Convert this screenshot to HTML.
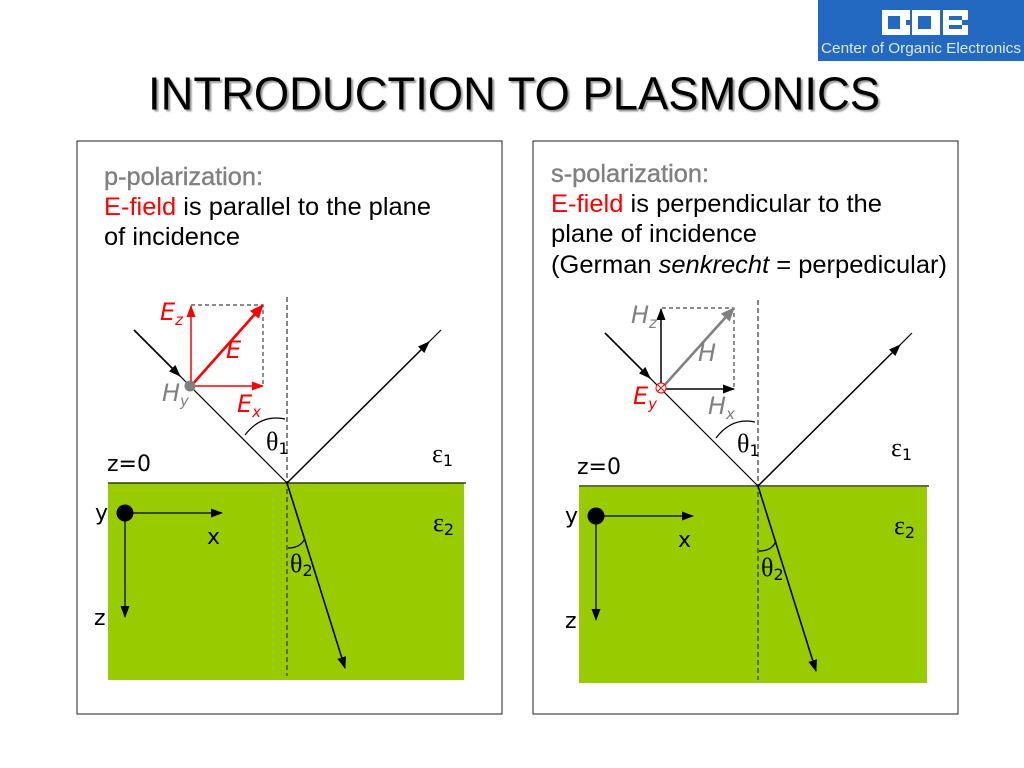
<!DOCTYPE html>
<html><head><meta charset="utf-8"><style>
html,body{margin:0;padding:0;background:#fff;width:1024px;height:768px;overflow:hidden}
svg{display:block}
.t{font-family:"Liberation Sans",sans-serif;font-size:25.4px}
.d{font-family:"DejaVu Sans",sans-serif;font-size:22px;fill:#000}
.i{font-family:"DejaVu Sans",sans-serif;font-style:italic;font-size:24px}
.s{font-size:15px}
.g{font-family:"Liberation Serif",serif;font-size:26px}
.n{font-family:"DejaVu Sans",sans-serif;font-size:16px}
</style></head><body>
<svg width="1024" height="768" viewBox="0 0 1024 768" xmlns="http://www.w3.org/2000/svg">
<defs>
<marker id="b" markerUnits="userSpaceOnUse" markerWidth="14" markerHeight="12" refX="11" refY="6" orient="auto"><path d="M0 1.500L12 6L0 10.500z" fill="#000"/></marker>
<marker id="r" markerUnits="userSpaceOnUse" markerWidth="14" markerHeight="12" refX="11" refY="6" orient="auto"><path d="M0 1.500L12 6L0 10.500z" fill="#f00"/></marker>
<marker id="R" markerUnits="userSpaceOnUse" markerWidth="16" markerHeight="14" refX="13" refY="7" orient="auto"><path d="M0 1L14 7L0 13z" fill="#f00"/></marker>
<marker id="g" markerUnits="userSpaceOnUse" markerWidth="16" markerHeight="14" refX="13" refY="7" orient="auto"><path d="M0 1L14 7L0 13z" fill="#808080"/></marker>
<filter id="sh" x="-5%" y="-20%" width="110%" height="140%"><feGaussianBlur stdDeviation="0.8"/></filter>
</defs>
<rect x="818" y="0" width="206" height="61" fill="#2369c1"/>
<path d="M882 10H910V20H906V25H910V35H882ZM888 16V29H900V16Z" fill="#fff" fill-rule="evenodd"/>
<path d="M912 10H940V35H912ZM918 16V29H931V16Z" fill="#fff" fill-rule="evenodd"/>
<path d="M943 10H968V20H962V25H968V35H943ZM949 16V20H962V16ZM949 25V29H962V25Z" fill="#fff" fill-rule="evenodd"/>
<text x="821" y="53" font-family="Liberation Sans,sans-serif" font-size="15" fill="#dce8f7" textLength="200" lengthAdjust="spacingAndGlyphs">Center of Organic Electronics</text>
<text x="150" y="111.500" font-family="Liberation Sans,sans-serif" font-size="46" fill="#999" filter="url(#sh)" textLength="732" lengthAdjust="spacingAndGlyphs">INTRODUCTION TO PLASMONICS</text>
<text x="148" y="109.500" font-family="Liberation Sans,sans-serif" font-size="46" fill="#000" textLength="732" lengthAdjust="spacingAndGlyphs">INTRODUCTION TO PLASMONICS</text>
<rect x="77" y="141" width="425" height="573" fill="#fff" stroke="#222" stroke-width="1"/>
<rect x="533" y="141" width="425" height="573" fill="#fff" stroke="#222" stroke-width="1"/>

<text class="t" x="104" y="185" fill="#808080" stroke="#808080" stroke-width=".4" textLength="159" lengthAdjust="spacingAndGlyphs">p-polarization:</text>
<text class="t" x="104" y="215" textLength="327" lengthAdjust="spacingAndGlyphs"><tspan fill="#f00">E-field</tspan> is parallel to the plane</text>
<text class="t" x="104" y="245" textLength="136" lengthAdjust="spacingAndGlyphs">of incidence</text>
<text class="t" x="551" y="182" fill="#808080" stroke="#808080" stroke-width=".4" textLength="158" lengthAdjust="spacingAndGlyphs">s-polarization:</text>
<text class="t" x="551" y="212" textLength="331" lengthAdjust="spacingAndGlyphs"><tspan fill="#f00">E-field</tspan> is perpendicular to the</text>
<text class="t" x="551" y="242" textLength="206" lengthAdjust="spacingAndGlyphs">plane of incidence</text>
<text class="t" x="551" y="273" textLength="396" lengthAdjust="spacingAndGlyphs">(German <tspan font-style="italic">senkrecht</tspan> = perpedicular)</text>

<!-- LEFT -->
<rect x="108" y="483" width="356" height="197" fill="#99cc00"/>
<line x1="108" y1="483" x2="466" y2="483" stroke="#2d3d10" stroke-width="1.5"/>
<line x1="287" y1="297" x2="287" y2="676" stroke="#333" stroke-width="1.2" stroke-dasharray="5 3"/>
<line x1="134" y1="330" x2="287" y2="483" stroke="#000" stroke-width="1.2"/>
<line x1="134" y1="330" x2="180" y2="376" stroke="#000" stroke-width="1.6" marker-end="url(#b)"/>
<line x1="287" y1="483" x2="441" y2="330" stroke="#000" stroke-width="1.2"/>
<line x1="287" y1="483" x2="429" y2="342" stroke="#000" stroke-width="1.4" marker-end="url(#b)"/>
<line x1="287" y1="483" x2="345" y2="668" stroke="#000" stroke-width="1.6" marker-end="url(#b)"/>
<path d="M245 435Q261 414 285 419" fill="none" stroke="#000" stroke-width="1.2"/>
<path d="M288 548Q301 548 305 538" fill="none" stroke="#000" stroke-width="1.2"/>
<path d="M191 305H263V386" fill="none" stroke="#444" stroke-width="1.2" stroke-dasharray="4 3"/>
<line x1="191" y1="386" x2="191" y2="306" stroke="#f00" stroke-width="1.5" marker-end="url(#r)"/>
<line x1="191" y1="386" x2="263" y2="386" stroke="#f00" stroke-width="1.5" marker-end="url(#r)"/>
<line x1="191" y1="386" x2="263" y2="305" stroke="#f00" stroke-width="2.6" marker-end="url(#R)"/>
<circle cx="190" cy="386" r="5.5" fill="#808080"/>
<text class="i" x="160" y="320" fill="#f00">E<tspan class="s" dy="5">z</tspan></text>
<text class="i" x="226" y="358" fill="#f00">E</text>
<text class="i" x="237" y="412" fill="#f00">E<tspan class="s" dy="5">x</tspan></text>
<text class="i" x="162" y="401" fill="#808080">H<tspan class="s" dy="5">y</tspan></text>
<text class="g" x="266" y="450">θ<tspan class="n" dy="4">1</tspan></text>
<text class="g" x="290" y="572">θ<tspan class="n" dy="4">2</tspan></text>
<text class="g" x="432" y="462">ε<tspan class="n" dy="4">1</tspan></text>
<text class="g" x="433" y="531">ε<tspan class="n" dy="4">2</tspan></text>
<text class="d" x="107" y="471">z=0</text>
<circle cx="125" cy="513" r="8.5" fill="#000"/>
<line x1="125" y1="513" x2="222" y2="513" stroke="#000" stroke-width="1.3" marker-end="url(#b)"/>
<line x1="125" y1="513" x2="125" y2="617" stroke="#000" stroke-width="1.3" marker-end="url(#b)"/>
<text class="d" x="95" y="520">y</text>
<text class="d" x="207" y="544">x</text>
<text class="d" x="94" y="625">z</text>

<!-- RIGHT -->
<rect x="579" y="487" width="348" height="196" fill="#99cc00"/>
<line x1="579" y1="486" x2="929" y2="486" stroke="#2d3d10" stroke-width="1.5"/>
<line x1="758" y1="300" x2="758" y2="680" stroke="#333" stroke-width="1.2" stroke-dasharray="5 3"/>
<line x1="605" y1="333" x2="758" y2="486" stroke="#000" stroke-width="1.2"/>
<line x1="605" y1="333" x2="650" y2="378" stroke="#000" stroke-width="1.6" marker-end="url(#b)"/>
<line x1="758" y1="486" x2="912" y2="333" stroke="#000" stroke-width="1.2"/>
<line x1="758" y1="486" x2="900" y2="345" stroke="#000" stroke-width="1.4" marker-end="url(#b)"/>
<line x1="758" y1="486" x2="816" y2="671" stroke="#000" stroke-width="1.6" marker-end="url(#b)"/>
<path d="M716 438Q732 417 755 422" fill="none" stroke="#000" stroke-width="1.2"/>
<path d="M759 551Q772 551 776 541" fill="none" stroke="#000" stroke-width="1.2"/>
<path d="M662 308H734V389" fill="none" stroke="#444" stroke-width="1.2" stroke-dasharray="4 3"/>
<line x1="661" y1="389" x2="661" y2="309" stroke="#000" stroke-width="1.5" marker-end="url(#b)"/>
<line x1="661" y1="389" x2="734" y2="389" stroke="#000" stroke-width="1.5" marker-end="url(#b)"/>
<line x1="661" y1="389" x2="734" y2="308" stroke="#808080" stroke-width="2.6" marker-end="url(#g)"/>
<circle cx="661" cy="388" r="5" fill="#fff" stroke="#f00" stroke-width="1"/>
<path d="M657.500 384.500L664.500 391.500M664.500 384.500L657.500 391.500" stroke="#f00" stroke-width="1"/>
<text class="i" x="631" y="323" fill="#808080">H<tspan class="s" dy="5">z</tspan></text>
<text class="i" x="698" y="361" fill="#808080">H</text>
<text class="i" x="708" y="414" fill="#808080">H<tspan class="s" dy="5">x</tspan></text>
<text class="i" x="633" y="404" fill="#f00">E<tspan class="s" dy="5">y</tspan></text>
<text class="g" x="737" y="452">θ<tspan class="n" dy="4">1</tspan></text>
<text class="g" x="761" y="576">θ<tspan class="n" dy="4">2</tspan></text>
<text class="g" x="891" y="456">ε<tspan class="n" dy="4">1</tspan></text>
<text class="g" x="894" y="534">ε<tspan class="n" dy="4">2</tspan></text>
<text class="d" x="577" y="474">z=0</text>
<circle cx="596" cy="516" r="8.5" fill="#000"/>
<line x1="596" y1="516" x2="693" y2="516" stroke="#000" stroke-width="1.3" marker-end="url(#b)"/>
<line x1="596" y1="516" x2="596" y2="620" stroke="#000" stroke-width="1.3" marker-end="url(#b)"/>
<text class="d" x="565" y="523">y</text>
<text class="d" x="678" y="547">x</text>
<text class="d" x="565" y="628">z</text>
</svg>
</body></html>
